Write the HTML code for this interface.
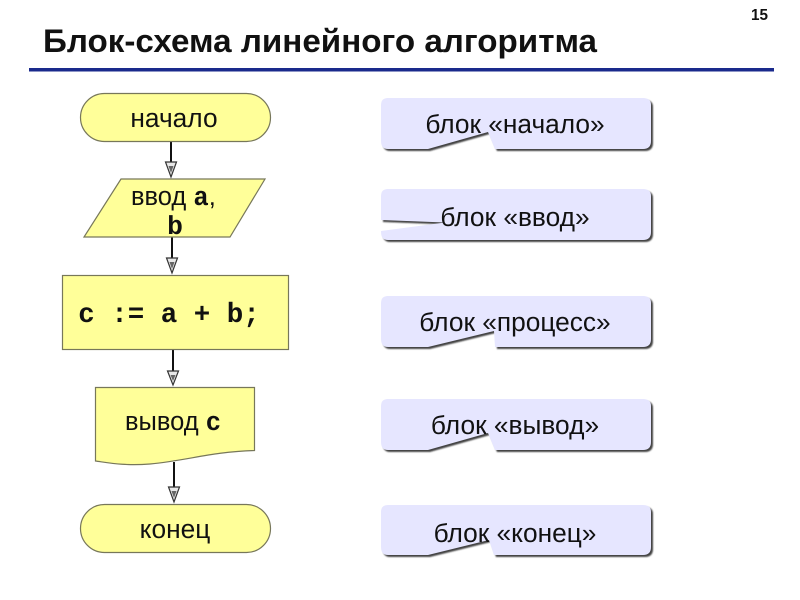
<!DOCTYPE html>
<html><head><meta charset="utf-8"><style>
html,body{margin:0;padding:0;background:#fff}
svg{display:block}
text{font-family:"Liberation Sans",sans-serif;fill:#111}
.m{font-family:"Liberation Mono",monospace;font-weight:bold}
.c{font-size:26.3px;text-anchor:middle}
.s{fill:#ffff99;stroke:#77775a;stroke-width:1.2}
.l{stroke:#111;stroke-width:2;fill:none}
.a{fill:#e8e8e8;stroke:#333;stroke-width:1.2}
.i{fill:#666}
.b{fill:#e6e6ff}
.sh{fill:#222;opacity:.85}
</style></head><body>
<svg width="800" height="600" viewBox="0 0 800 600" xmlns="http://www.w3.org/2000/svg">
<defs><filter id="bl" x="-5%" y="-10%" width="110%" height="120%"><feGaussianBlur stdDeviation="0.7"/></filter>
<path id="c1" d="M388 98H643Q651 98 651 105V141Q651 149 643 149H495L488 132 428 149H388Q381 149 381 141V105Q381 98 388 98Z"/>
<path id="c2" d="M388 189H643Q651 189 651 196V232Q651 240 643 240H388Q381 240 381 232V231L445 222.500 381 220V196Q381 189 388 189Z"/>
<path id="c3" d="M388 296H643Q651 296 651 303V339Q651 347 643 347H495L494 331 428 347H388Q381 347 381 339V303Q381 296 388 296Z"/>
<path id="c4" d="M388 399H643Q651 399 651 406V442Q651 450 643 450H495L488 433 428 450H388Q381 450 381 442V406Q381 399 388 399Z"/>
<path id="c5" d="M388 505H643Q651 505 651 512V547Q651 555 643 555H494L489 540 428 555H388Q381 555 381 547V512Q381 505 388 505Z"/>
</defs>
<text x="43" y="52" font-size="32" font-weight="bold" textLength="554" lengthAdjust="spacingAndGlyphs">Блок-схема линейного алгоритма</text>
<text x="751" y="20" font-size="15.500" font-weight="bold" textLength="17" lengthAdjust="spacingAndGlyphs">15</text>
<rect x="29" y="68" width="745" height="3.500" fill="#1a2a8c"/>

<path class="l" d="M171 141V168M172 237V264M173 349V376M174 462V493"/>
<path class="a" d="M165.500 162H176.500L171 177Z"/><path class="i" d="M168.500 166H173.500L171 173Z"/>
<path class="a" d="M166.500 258H177.500L172 273Z"/><path class="i" d="M169.500 262H174.500L172 269Z"/>
<path class="a" d="M167.500 371H178.500L173 385Z"/><path class="i" d="M170.500 375H175.500L173 381Z"/>
<path class="a" d="M168.500 487H179.500L174 502Z"/><path class="i" d="M171.500 491H176.500L174 498Z"/>

<rect class="s" x="80.500" y="93.500" width="190" height="48" rx="24"/>
<path class="s" d="M121 179H265L230 237H84Z"/>
<rect class="s" x="62.500" y="275.500" width="226" height="74"/>
<path class="s" d="M95.500 387.500H254.500V450.500C210 452 190 460 150 464C125 466 110 463 95.500 461Z"/>
<rect class="s" x="80.500" y="504.500" width="190" height="48" rx="24"/>

<text class="c" x="174" y="127">начало</text>
<text x="131" y="205" font-size="25.500">ввод <tspan class="m">a</tspan>,</text>
<text class="m c" x="175" y="234">b</text>
<text class="m c" x="169" y="322" style="font-size:27.500px">c := a + b;</text>
<text x="125" y="430" font-size="25.500">вывод <tspan class="m">c</tspan></text>
<text class="c" x="175" y="538">конец</text>

<use href="#c1" class="sh" filter="url(#bl)" transform="translate(2 2)"/><use href="#c1" class="b"/>
<text class="c" x="515" y="133">блок «начало»</text>

<use href="#c2" class="sh" filter="url(#bl)" transform="translate(2 2)"/><use href="#c2" class="b"/>
<text class="c" x="515" y="226">блок «ввод»</text>

<use href="#c3" class="sh" filter="url(#bl)" transform="translate(2 2)"/><use href="#c3" class="b"/>
<text class="c" x="515" y="331">блок «процесс»</text>

<use href="#c4" class="sh" filter="url(#bl)" transform="translate(2 2)"/><use href="#c4" class="b"/>
<text class="c" x="515" y="434">блок «вывод»</text>

<use href="#c5" class="sh" filter="url(#bl)" transform="translate(2 2)"/><use href="#c5" class="b"/>
<text class="c" x="515" y="542">блок «конец»</text>
</svg>
</body></html>
